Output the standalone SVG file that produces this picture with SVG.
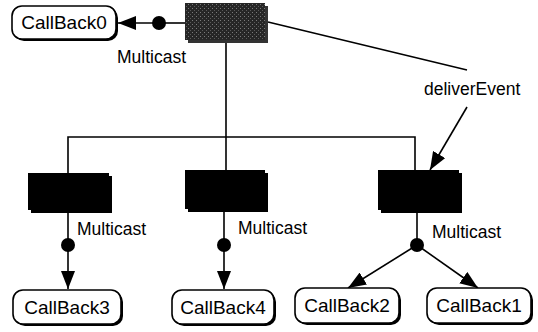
<svg xmlns="http://www.w3.org/2000/svg" width="538" height="332" viewBox="0 0 538 332">
<defs>
<marker id="ah" markerUnits="userSpaceOnUse" markerWidth="20" markerHeight="14" refX="18" refY="7" orient="auto">
<path d="M0,0 L18,7 L0,14 Z" fill="#000"/>
</marker>
<pattern id="speck" width="4" height="4" patternUnits="userSpaceOnUse">
<rect width="4" height="4" fill="#262626"/>
<rect x="0" y="0" width="1" height="1" fill="#7a7a7a"/>
<rect x="2" y="2" width="1" height="1" fill="#5a5a5a"/>
</pattern>
</defs>
<style>
.cb rect.bg{fill:#fff;stroke:#000;stroke-width:1.6}
.cb rect.sh{fill:#000}
.cb text{font-family:"Liberation Sans",Arial,sans-serif;font-size:19px;text-anchor:middle;fill:#000}
.lbl{font-family:"Liberation Sans",Arial,sans-serif;font-size:17.5px;fill:#000}
.ln{stroke:#000;stroke-width:1.6;fill:none}
.arr{stroke:#000;stroke-width:1.6;fill:none;marker-end:url(#ah)}
.obj{fill:#000}
</style>

<g id="connectors">
<line class="ln" x1="186" y1="23" x2="159" y2="23"/>
<line class="arr" x1="159" y1="23" x2="118" y2="23"/>
<circle cx="159" cy="23" r="7" fill="#000"/>
<line class="ln" x1="226" y1="42" x2="226" y2="170"/>
<polyline class="ln" points="68,173 68,137 415,137 415,170"/>
<line class="ln" x1="268" y1="22" x2="467" y2="70"/>
<line class="arr" x1="467" y1="107" x2="430" y2="170"/>
<line class="ln" x1="68" y1="213" x2="68" y2="245"/>
<line class="arr" x1="68" y1="245" x2="68" y2="289"/>
<circle cx="68" cy="245" r="7" fill="#000"/>
<line class="ln" x1="224" y1="212" x2="224" y2="245"/>
<line class="arr" x1="224" y1="245" x2="224" y2="289"/>
<circle cx="224" cy="245" r="7" fill="#000"/>
<line class="ln" x1="417" y1="213" x2="417" y2="245"/>
<line class="arr" x1="417" y1="245" x2="348" y2="288"/>
<line class="arr" x1="417" y1="245" x2="478" y2="288"/>
<circle cx="417" cy="245" r="7" fill="#000"/>
<text class="lbl" x="117" y="63">Multicast</text>
<text class="lbl" x="424" y="95">deliverEvent</text>
<text class="lbl" x="77" y="235">Multicast</text>
<text class="lbl" x="238" y="234">Multicast</text>
<text class="lbl" x="432" y="238">Multicast</text>
</g>

<g id="source">
<rect x="188" y="6" width="80" height="37" fill="#333"/>
<rect x="185" y="3" width="80" height="37" fill="url(#speck)"/>
</g>
<g id="proxyLeft">
<rect x="31" y="176" width="81" height="37" class="obj"/>
<rect x="28" y="173" width="81" height="37" class="obj"/>
</g>
<g id="proxyMiddle">
<rect x="188" y="173" width="80" height="39" class="obj"/>
<rect x="185" y="170" width="80" height="39" class="obj"/>
</g>
<g id="proxyRight">
<rect x="381" y="173" width="81" height="40" class="obj"/>
<rect x="378" y="170" width="81" height="40" class="obj"/>
</g>

<g id="CallBack0" class="cb">
<rect class="sh" x="14" y="8" width="104" height="33" rx="10"/>
<rect class="bg" x="12" y="6" width="104" height="33" rx="10"/>
<text x="64" y="29">CallBack0</text>
</g>
<g id="CallBack3" class="cb">
<rect class="sh" x="15" y="292" width="108" height="34" rx="10"/>
<rect class="bg" x="13" y="290" width="108" height="34" rx="10"/>
<text x="67" y="314">CallBack3</text>
</g>
<g id="CallBack4" class="cb">
<rect class="sh" x="174" y="292" width="102" height="34" rx="10"/>
<rect class="bg" x="172" y="290" width="102" height="34" rx="10"/>
<text x="223" y="314">CallBack4</text>
</g>
<g id="CallBack2" class="cb">
<rect class="sh" x="297" y="290" width="104" height="35" rx="10"/>
<rect class="bg" x="295" y="288" width="104" height="35" rx="10"/>
<text x="347" y="312">CallBack2</text>
</g>
<g id="CallBack1" class="cb">
<rect class="sh" x="429" y="290" width="104" height="35" rx="10"/>
<rect class="bg" x="427" y="288" width="104" height="35" rx="10"/>
<text x="479" y="312">CallBack1</text>
</g>
</svg>
